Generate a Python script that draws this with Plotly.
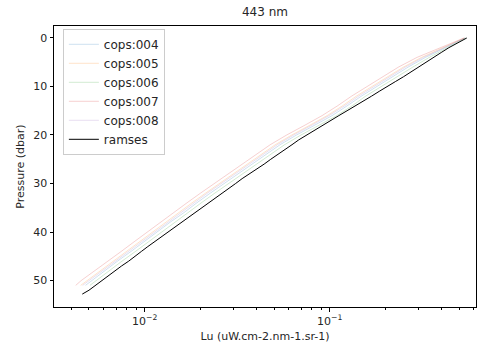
import plotly.graph_objects as go

# ---------------- data ----------------
ramses_p = [0.0, 0.5, 1.0, 2.0, 3.0, 4.0, 5.0, 6.0, 7.0, 8.0, 9.0, 10.0, 11.0, 12.0, 13.0,
            14.0, 15.0, 16.0, 17.0, 18.0, 19.0, 20.0, 21.0, 22.0, 23.0, 24.0, 25.0, 26.0,
            27.0, 28.0, 29.0, 30.0, 31.0, 32.0, 33.0, 34.0, 35.0, 36.0, 37.0, 38.0, 39.0,
            40.0, 41.0, 42.0, 43.0, 44.0, 45.0, 46.0, 47.0, 48.0, 49.0, 50.0, 51.0, 52.0, 52.8]
ramses_lu = [0.55, 0.52, 0.49, 0.44, 0.40, 0.365, 0.333, 0.303, 0.277, 0.250, 0.226, 0.203,
             0.185, 0.168, 0.151, 0.138, 0.124, 0.112, 0.1015, 0.0915, 0.083, 0.0745, 0.068,
             0.0625, 0.0570, 0.0527, 0.0480, 0.0442, 0.0401, 0.0370, 0.0336, 0.031, 0.0285,
             0.0261, 0.0238, 0.0219, 0.0201, 0.0185, 0.0171, 0.0157, 0.0145, 0.0134, 0.0123,
             0.0113, 0.0104, 0.0096, 0.0089, 0.0082, 0.0075, 0.0069, 0.0064, 0.0059, 0.0054,
             0.0050, 0.0046]

cops_p = [0, 2, 4, 6, 8, 10, 12, 14, 16, 18, 20, 22, 24, 26, 28, 30, 32, 34, 36, 38, 40,
          42, 44, 46, 48, 50, 51]
cops004 = [0.539, 0.421, 0.329, 0.265, 0.2175, 0.178, 0.148, 0.124, 0.103, 0.0827, 0.0661,
           0.0539, 0.0452, 0.0383, 0.0322, 0.0270, 0.0226, 0.0191, 0.0163, 0.0137, 0.0117,
           0.00992, 0.00844, 0.00713, 0.00609, 0.00513, 0.00479]
cops005 = [0.535, 0.41, 0.313, 0.250, 0.205, 0.168, 0.139, 0.117, 0.0968, 0.0779, 0.0623,
           0.0508, 0.0426, 0.0361, 0.0303, 0.0254, 0.0213, 0.0180, 0.0153, 0.0130, 0.0110,
           0.00935, 0.00795, 0.00672, 0.00574, 0.00484, 0.00451]
cops006 = [0.543, 0.432, 0.345, 0.281, 0.230, 0.189, 0.156, 0.132, 0.109, 0.0874, 0.0699,
           0.0570, 0.0478, 0.0405, 0.0340, 0.0285, 0.0239, 0.0202, 0.0172, 0.0145, 0.0123,
           0.0105, 0.00892, 0.00754, 0.00644, 0.00543, 0.00506]
cops007 = [0.531, 0.398, 0.296, 0.235, 0.1925, 0.158, 0.131, 0.110, 0.0909, 0.0732, 0.0585,
           0.0477, 0.0400, 0.0339, 0.0285, 0.0239, 0.0200, 0.0169, 0.0144, 0.0122, 0.0103,
           0.00878, 0.00747, 0.00631, 0.00539, 0.00454, 0.00424]
cops008 = [0.537, 0.414, 0.320, 0.256, 0.210, 0.172, 0.143, 0.120, 0.0991, 0.0798, 0.0638,
           0.0521, 0.0437, 0.0370, 0.0311, 0.0260, 0.0218, 0.0185, 0.0157, 0.0133, 0.0113,
           0.00958, 0.00815, 0.00689, 0.00588, 0.00496, 0.00462]

series_names = ["cops:004", "cops:005", "cops:006", "cops:007", "cops:008"]
series_vals = [cops004, cops005, cops006, cops007, cops008]
series_colors = ["rgba(31,119,180,0.22)", "rgba(255,127,14,0.22)", "rgba(44,160,44,0.22)",
                 "rgba(214,39,40,0.22)", "rgba(148,103,189,0.22)"]

y_ticks = [0, 10, 20, 30, 40, 50]
x_major = [0.01, 0.1]
x_minor = [0.004, 0.005, 0.006, 0.007, 0.008, 0.009,
           0.02, 0.03, 0.04, 0.05, 0.06, 0.07, 0.08, 0.09,
           0.2, 0.3, 0.4, 0.5, 0.6]

# ---------------- figure ----------------
fig = go.Figure()
for name, vals, col in zip(series_names, series_vals, series_colors):
    fig.add_trace(go.Scatter(x=vals, y=cops_p, mode="lines", name=name,
                             line=dict(color=col, width=1)))
fig.add_trace(go.Scatter(x=ramses_lu, y=ramses_p, mode="lines", name="ramses",
                         line=dict(color="black", width=1)))

font = "DejaVu Sans"
txt = "#262626"
fig.update_layout(
    width=481, height=347,
    margin=dict(l=54, r=5, t=26, b=40),
    paper_bgcolor="white", plot_bgcolor="white",
    font=dict(family=font, size=11, color=txt),
    title=dict(text="443 nm", x=0.5, xref="paper", y=1 - 12 / 347, yref="container",
               xanchor="center", yanchor="middle", font=dict(size=12, color=txt)),
    showlegend=True,
    legend=dict(x=0.021, y=0.99, xanchor="left", yanchor="top",
                bgcolor="rgba(255,255,255,0.8)", bordercolor="#cccccc", borderwidth=1,
                font=dict(size=12, color=txt), itemwidth=30, tracegroupgap=0),
    xaxis=dict(type="log", range=[-2.49, -0.21],
               tickvals=x_major, ticktext=["10<sup>−2</sup>", "10<sup>−1</sup>"],
               ticks="outside", ticklen=3.5, tickcolor="black",
               minor=dict(tickvals=x_minor, ticks="outside", ticklen=2, tickcolor="black"),
               showline=True, linecolor="black", linewidth=1, mirror=True,
               showgrid=False, zeroline=False,
               title=dict(text="Lu (uW.cm-2.nm-1.sr-1)", standoff=5, font=dict(size=11))),
    yaxis=dict(range=[55.46, -2.47], tickvals=y_ticks,
               ticks="outside", ticklen=3.5, tickcolor="black",
               showline=True, linecolor="black", linewidth=1, mirror=True,
               showgrid=False, zeroline=False,
               title=dict(text="Pressure (dbar)", standoff=6, font=dict(size=11))),
)

fig.write_html("out.html")
